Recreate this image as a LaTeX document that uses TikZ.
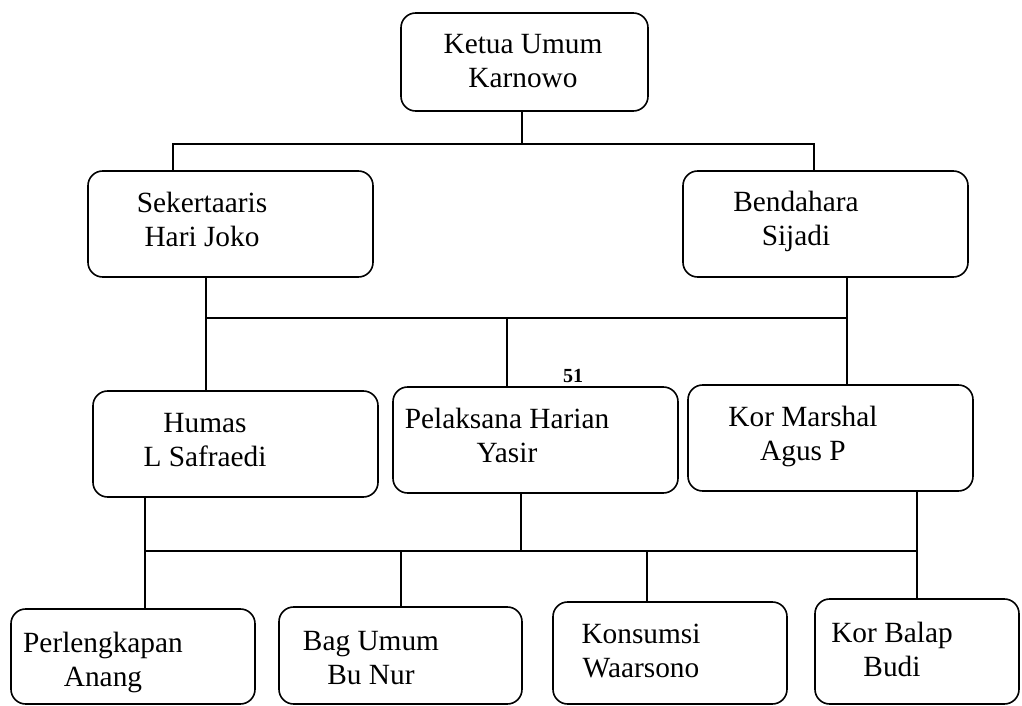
\documentclass[tikz,border=0pt]{standalone}
\usepackage{fontspec}
\setmainfont{Liberation Serif}
\newcommand{\duabaris}[2]{\begin{tabular}[t]{@{}c@{}}#1\\#2\end{tabular}}
\begin{document}
\begin{tikzpicture}[x=0.75pt, y=-0.75pt,
    kotak/.style 2 args={draw, line width=1.2pt, rounded corners=11pt, inner sep=0pt,
      minimum width=#1*0.75pt, minimum height=#2*0.75pt},
    nama/.style={anchor=base, inner sep=0pt, font=\fontsize{22}{25.5}\selectfont},
    garis/.style={line width=1.2pt}]
    % Frame
    \useasboundingbox (0, 0) rectangle (1022, 706);

    % Ketua
    \node[kotak={247}{98}] (ketua) at (524.5, 62) {};
    \node[nama] (ketuaT) at (523, 54) {\duabaris{Ketua Umum}{Karnowo}};

    % Sekertaaris, Bendahara
    \node[kotak={285}{106}] (sek) at (230.5, 224) {};
    \node[nama] (sekT) at (202, 213) {\duabaris{Sekertaaris}{Hari Joko}};
    \node[kotak={285}{106}] (bend) at (825.5, 224) {};
    \node[nama] (bendT) at (796, 212) {\duabaris{Bendahara}{Sijadi}};

    % Humas, Pelaksana, Kor Marshal
    \node[kotak={285}{106}] (humas) at (235.5, 444) {};
    \node[nama] (humasT) at (205, 432) {\duabaris{Humas}{L Safraedi}};
    \node[kotak={285}{106}] (pel) at (535.5, 440) {};
    \node[nama] (pelT) at (507, 428) {\duabaris{Pelaksana Harian}{Yasir}};
    \node[kotak={285}{106}] (marsh) at (830.5, 438) {};
    \node[nama] (marshT) at (803, 426) {\duabaris{Kor Marshal}{Agus P}};
    % Page number
    \node[anchor=base, inner sep=0pt, font=\fontsize{15}{18}\selectfont\bfseries]
      (hal) at (573, 382) {51};

    % Bottom row
    \node[kotak={244}{95}] (perl) at (133, 656.5) {};
    \node[nama] (perlT) at (103, 652) {\duabaris{Perlengkapan}{Anang}};
    \node[kotak={243}{97}] (bag) at (400.5, 655.5) {};
    \node[nama] (bagT) at (371, 650) {\duabaris{Bag Umum}{Bu Nur}};
    \node[kotak={234}{102}] (kons) at (670, 653) {};
    \node[nama] (konsT) at (641, 643) {\duabaris{Konsumsi}{Waarsono}};
    \node[kotak={204}{105}] (balap) at (917, 651.5) {};
    \node[nama] (balapT) at (892, 642) {\duabaris{Kor Balap}{Budi}};

    % Level 1 bus
    \coordinate (busA) at (522, 144);
    \coordinate (busAL) at (173, 144);
    \coordinate (busAR) at (814, 144);
    \draw[garis] (ketua.south -| busA) -- (busA);
    \draw[garis] (busAL |- sek.north) -- (busAL) -- (busAR) -- (busAR |- bend.north);

    % Level 2 bus
    \coordinate (busBL) at (206, 318);
    \coordinate (busBM) at (507, 318);
    \coordinate (busBR) at (847, 318);
    \draw[garis] (sek.south -| busBL) -- (busBL |- humas.north);
    \draw[garis] (busBL) -- (busBR);
    \draw[garis] (bend.south -| busBR) -- (busBR |- marsh.north);
    \draw[garis] (busBM) -- (busBM |- pel.north);

    % Level 3 bus
    \coordinate (busCL) at (145, 551);
    \coordinate (busC2) at (401, 551);
    \coordinate (busCM) at (521, 551);
    \coordinate (busC3) at (647, 551);
    \coordinate (busCR) at (917, 551);
    \draw[garis] (humas.south -| busCL) -- (busCL |- perl.north);
    \draw[garis] (busCL) -- (busCR);
    \draw[garis] (pel.south -| busCM) -- (busCM);
    \draw[garis] (marsh.south -| busCR) -- (busCR |- balap.north);
    \draw[garis] (busC2) -- (busC2 |- bag.north);
    \draw[garis] (busC3) -- (busC3 |- kons.north);
\end{tikzpicture}
\end{document}
